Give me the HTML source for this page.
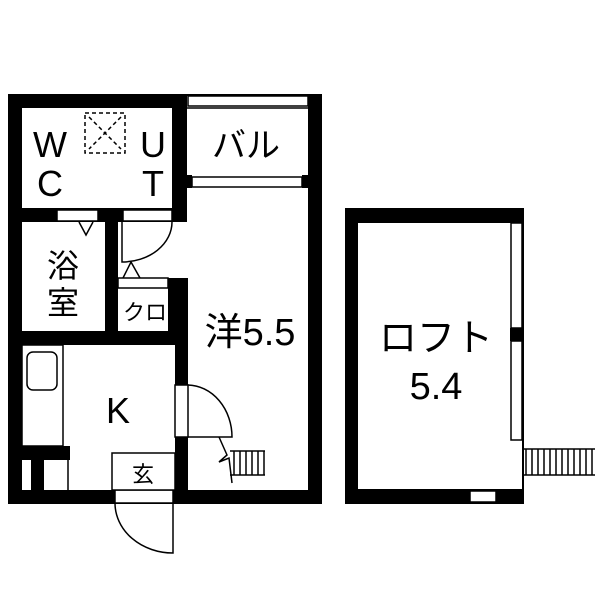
<!DOCTYPE html><html><head><meta charset="utf-8"><style>html,body{margin:0;padding:0;background:#fff}svg{display:block}text{font-family:"Liberation Sans","Noto Sans CJK JP",sans-serif;fill:#000}</style></head><body>
<svg width="600" height="600" viewBox="0 0 600 600" xmlns="http://www.w3.org/2000/svg">
<rect width="600" height="600" fill="#fff"/>
<g fill="#000">
<rect x="8" y="94" width="14" height="410"/>
<rect x="8" y="94" width="179" height="14"/>
<rect x="187" y="94" width="135" height="2"/>
<rect x="308" y="94" width="14" height="410"/>
<rect x="8" y="490" width="314" height="14"/>
<rect x="172" y="94" width="15" height="128"/>
<rect x="187" y="175" width="5" height="13"/>
<rect x="302" y="175" width="6" height="13"/>
<rect x="22" y="208" width="165" height="14"/>
<rect x="105" y="208" width="13" height="137"/>
<rect x="22" y="331" width="165" height="14"/>
<rect x="168" y="278" width="20" height="67"/>
<rect x="175" y="278" width="13" height="226"/>
<rect x="22" y="446" width="48" height="14"/>
<rect x="31" y="460" width="13" height="30"/>
</g>
<g fill="#fff" stroke="#000" stroke-width="1.5">
<rect x="188" y="96" width="120" height="10"/>
<rect x="192" y="177" width="110" height="10"/>
<rect x="57" y="210" width="41" height="11"/>
<rect x="123" y="210" width="49" height="11"/>
<rect x="118" y="278" width="50" height="10"/>
<rect x="175" y="385" width="13" height="52"/>
<rect x="115" y="490" width="58" height="13"/>
<rect x="22" y="345" width="41" height="101"/>
<rect x="27" y="352" width="30" height="38" rx="6"/>
<rect x="112" y="453" width="63" height="37"/>
</g>
<line x1="187" y1="108" x2="308" y2="108" stroke="#000" stroke-width="1.5"/>
<rect x="172" y="222" width="4" height="56" fill="#fff"/>
<g fill="none" stroke="#000" stroke-width="1.5">
<line x1="68" y1="460" x2="68" y2="490"/>
<path d="M79 222 L86 235 L93 222"/>
<path d="M122 222 L122 262 A50 40 0 0 0 172 222"/>
<path d="M123 278 L131 262 L140 278"/>
<path d="M188 437 L232 437 A45 52 0 0 0 188 385"/>
<path d="M173 503 L173 553 A58 50 0 0 1 115 503"/>
<path d="M219 437 L227 455 L219 462 L229 458 L232 483"/>
<rect x="85" y="113" width="40" height="40" stroke-dasharray="4,3"/>
<path d="M89 117 L121 149 M121 117 L89 149" stroke-dasharray="4,3"/>
</g>
<g stroke="#000" stroke-width="1.5">
<line x1="230" y1="451" x2="265" y2="451"/><line x1="230" y1="475" x2="265" y2="475"/>
<line x1="234" y1="451" x2="234" y2="475"/><line x1="240" y1="451" x2="240" y2="475"/><line x1="246" y1="451" x2="246" y2="475"/><line x1="252" y1="451" x2="252" y2="475"/><line x1="258" y1="451" x2="258" y2="475"/><line x1="264" y1="451" x2="264" y2="475"/>
</g>
<g fill="#000">
<rect x="345" y="208" width="13" height="296"/>
<rect x="345" y="208" width="179" height="15"/>
<rect x="345" y="489" width="179" height="15"/>
<rect x="522" y="208" width="2" height="296"/>
<rect x="510" y="328" width="13" height="13"/>
</g>
<g fill="#fff" stroke="#000" stroke-width="1.5">
<rect x="511" y="223" width="11" height="105"/>
<rect x="511" y="341" width="11" height="99"/>
<rect x="470" y="491" width="26" height="11"/>
</g>
<g stroke="#000" stroke-width="1.5">
<line x1="523" y1="449" x2="595" y2="449"/><line x1="523" y1="475" x2="595" y2="475"/>
<line x1="526" y1="449" x2="526" y2="475"/><line x1="532" y1="449" x2="532" y2="475"/><line x1="538" y1="449" x2="538" y2="475"/><line x1="544" y1="449" x2="544" y2="475"/><line x1="550" y1="449" x2="550" y2="475"/><line x1="556" y1="449" x2="556" y2="475"/><line x1="562" y1="449" x2="562" y2="475"/><line x1="568" y1="449" x2="568" y2="475"/><line x1="574" y1="449" x2="574" y2="475"/><line x1="580" y1="449" x2="580" y2="475"/><line x1="586" y1="449" x2="586" y2="475"/><line x1="592" y1="449" x2="592" y2="475"/>
</g>
<g text-anchor="middle">
<text x="50" y="157" font-size="36">W</text>
<text x="50" y="196" font-size="36">C</text>
<text x="153" y="157" font-size="36">U</text>
<text x="153" y="196" font-size="36">T</text>
<text x="246" y="157" font-size="34">バル</text>
<text x="63" y="277" font-size="32">浴</text>
<text x="63" y="314" font-size="32">室</text>
<text x="145" y="320" font-size="22">クロ</text>
<text x="250" y="345" font-size="38">洋5.5</text>
<text x="118" y="423" font-size="36">K</text>
<text x="143" y="482" font-size="22">玄</text>
<text x="436" y="351" font-size="38">ロフト</text>
<text x="436" y="399" font-size="38">5.4</text>
</g>
</svg>
</body></html>
